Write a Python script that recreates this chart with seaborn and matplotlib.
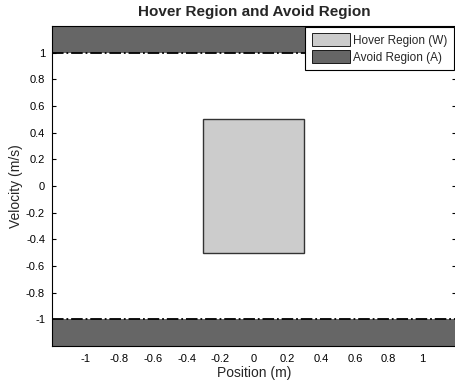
import numpy as np
import pandas as pd
import matplotlib
matplotlib.use("Agg")
import matplotlib.pyplot as plt
import seaborn as sns
from matplotlib.patches import Rectangle, Patch

# ---------------------------------
# data
# ---------------------------------
hover_pos = [-0.3, 0.3]      # position range of hover region
hover_vel = [-0.5, 0.5]      # velocity range of hover region
avoid_limit = 1.0            # |velocity| above this is avoid region
axis_lim = 1.2
x_ticks = [-1, -0.8, -0.6, -0.4, -0.2, 0, 0.2, 0.4, 0.6, 0.8, 1]
y_ticks = [-1, -0.8, -0.6, -0.4, -0.2, 0, 0.2, 0.4, 0.6, 0.8, 1]
labels = ["Hover Region (W)", "Avoid Region (A)"]

sns.set_style("white")
plt.rcParams['font.family'] = ['Liberation Sans', 'DejaVu Sans']

fig = plt.figure(figsize=(4.56, 3.92), dpi=100)
ax = fig.add_axes([52/456, 1 - 346/392, 404/456, 320/392])

# avoid regions
xs = np.array([-axis_lim, axis_lim])
ax.fill_between(xs, avoid_limit, axis_lim, color="#666666", lw=0)
ax.fill_between(xs, -axis_lim, -avoid_limit, color="#666666", lw=0)

# boundary lines
bound = pd.DataFrame({"x": [-axis_lim, axis_lim, -axis_lim, axis_lim],
                      "y": [avoid_limit, avoid_limit, -avoid_limit, -avoid_limit],
                      "side": ["top", "top", "bot", "bot"]})
for side, d in bound.groupby("side"):
    sns.lineplot(data=d, x="x", y="y", ax=ax, color="black", lw=1.3,
                 linestyle="-.", legend=False)

# hover region
ax.add_patch(Rectangle((hover_pos[0], hover_vel[0]),
                       hover_pos[1] - hover_pos[0], hover_vel[1] - hover_vel[0],
                       facecolor="#cccccc", edgecolor="#333333", lw=1.0))

ax.set_xlim(-axis_lim, axis_lim)
ax.set_ylim(-axis_lim, axis_lim)
ax.set_xticks(x_ticks)
ax.set_yticks(y_ticks)
ax.set_xticklabels([f"{t:g}" for t in x_ticks])
ax.set_yticklabels([f"{t:g}" for t in y_ticks])
ax.tick_params(direction="in", length=3, labelsize=8, colors="black",
               right=True, top=False, left=True, bottom=False, pad=5)
ax.tick_params(axis="x", pad=6)
for s in ax.spines.values():
    s.set_color("black")
    s.set_linewidth(0.8)

ax.set_xlabel("Position (m)", fontsize=10, labelpad=1)
ax.set_ylabel("Velocity (m/s)", fontsize=10, labelpad=2)
ax.set_title("Hover Region and Avoid Region", fontsize=11, fontweight="bold", pad=7)

handles = [Patch(facecolor="#cccccc", edgecolor="black", lw=0.6),
           Patch(facecolor="#666666", edgecolor="black", lw=0.6)]
leg = ax.legend(handles, labels, loc="upper right", fontsize=8.5,
                bbox_to_anchor=(1 - 2/404, 1 - 1/320),
                frameon=True, fancybox=False, framealpha=1,
                edgecolor="black", handlelength=3.2, handleheight=1.3,
                borderaxespad=0, labelspacing=0.3, handletextpad=0.3,
                borderpad=0.55)
leg.get_frame().set_linewidth(0.8)

fig.savefig("out.png", dpi=100)
